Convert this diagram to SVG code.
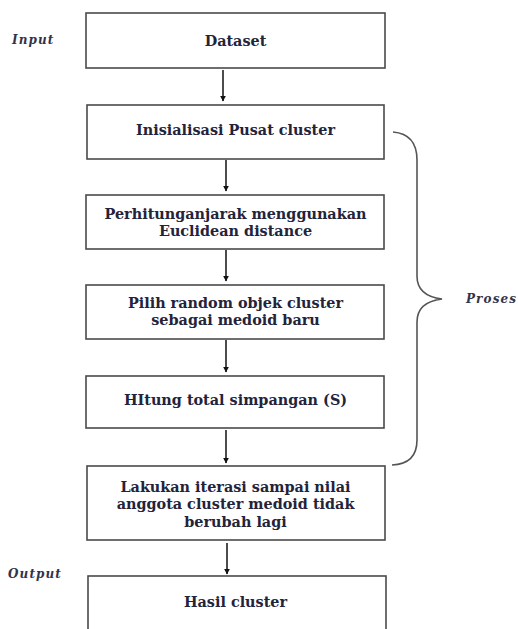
<svg xmlns="http://www.w3.org/2000/svg" width="518" height="629" viewBox="0 0 518 629">
<defs>
<style>
.box{fill:#fff;stroke:#4a4a4a;stroke-width:1.6}
.t{font-family:"DejaVu Serif","Liberation Serif",serif;font-weight:bold;font-size:14.4px;fill:#23233a;text-anchor:middle}
.lbl{font-family:"DejaVu Serif","Liberation Serif",serif;font-style:italic;font-weight:bold;font-size:12px;letter-spacing:1.1px;fill:#33334a}
.c{stroke:#111;stroke-width:1.5;fill:none}
.brace{stroke:#555;stroke-width:1.6;fill:none}
</style>
<marker id="ah" viewBox="0 0 10 10" refX="9" refY="5" markerWidth="6" markerHeight="6" orient="auto" markerUnits="userSpaceOnUse">
<path d="M0,0 L10,5 L0,10 z" fill="#111"/>
</marker>
</defs>
<rect width="518" height="629" fill="#fff"/>
<text class="lbl" x="12" y="44">Input</text>
<text class="lbl" x="8" y="578">Output</text>
<text class="lbl" x="466" y="303">Proses</text>
<g id="n1"><rect class="box" x="86" y="13" width="299" height="55"/><text class="t" x="235.5" y="46">Dataset</text></g>
<g id="n2"><rect class="box" x="87" y="105" width="297" height="54"/><text class="t" x="235.5" y="135">Inisialisasi Pusat cluster</text></g>
<g id="n3"><rect class="box" x="86" y="195" width="298" height="54"/><text class="t" x="235.5" y="219">Perhitunganjarak menggunakan</text><text class="t" x="235.5" y="236">Euclidean distance</text></g>
<g id="n4"><rect class="box" x="86" y="285" width="298" height="54"/><text class="t" x="235.5" y="308">Pilih random objek cluster</text><text class="t" x="235.5" y="325">sebagai medoid baru</text></g>
<g id="n5"><rect class="box" x="86" y="376" width="298" height="52"/><text class="t" x="235.5" y="405">HItung total simpangan (S)</text></g>
<g id="n6"><rect class="box" x="87" y="466" width="298" height="74"/><text class="t" x="235.5" y="492">Lakukan iterasi sampai nilai</text><text class="t" x="235.5" y="509">anggota cluster medoid tidak</text><text class="t" x="235.5" y="527">berubah lagi</text></g>
<g id="n7"><rect class="box" x="88" y="576" width="298" height="70"/><text class="t" x="235.5" y="607">Hasil cluster</text></g>
<g id="connectors">
<line class="c" x1="223" y1="70" x2="223" y2="101" marker-end="url(#ah)"/>
<line class="c" x1="226" y1="160" x2="226" y2="191" marker-end="url(#ah)"/>
<line class="c" x1="226" y1="250" x2="226" y2="281" marker-end="url(#ah)"/>
<line class="c" x1="226" y1="340" x2="226" y2="372" marker-end="url(#ah)"/>
<line class="c" x1="226" y1="430" x2="226" y2="463" marker-end="url(#ah)"/>
<line class="c" x1="227" y1="543" x2="227" y2="574" marker-end="url(#ah)"/>
</g>
<path class="brace" d="M393,132 Q417,134 417,160 L417,276 Q417,296 442,299 Q417,302 417,322 L417,440 Q417,464 392,465"/>
</svg>
